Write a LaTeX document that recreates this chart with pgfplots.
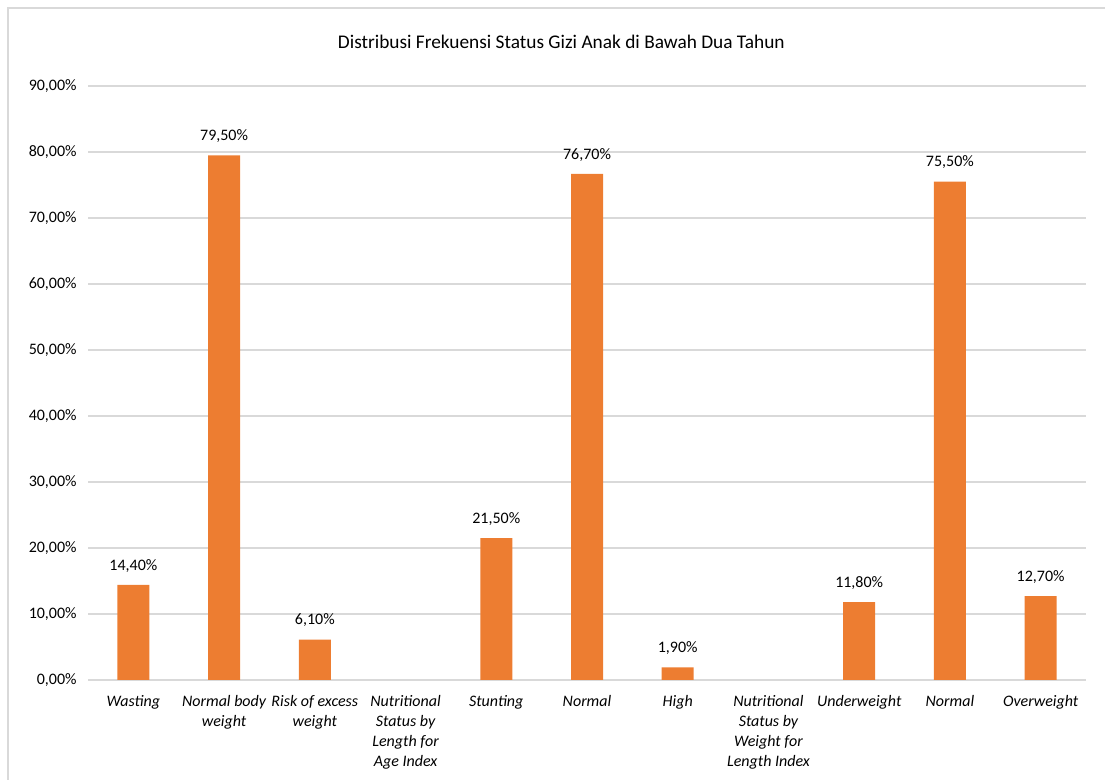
\documentclass[border=0pt]{standalone}
\usepackage{pgfplots}
\pgfplotsset{compat=1.18}
\usepackage{fontspec}
\setmainfont{Carlito}
\definecolor{barorange}{HTML}{ED7D31}
\definecolor{gridgray}{HTML}{D9D9D9}
\definecolor{framegray}{HTML}{D9D9D9}
\begin{document}
\begin{tikzpicture}
\path[use as bounding box] (0,0) rectangle (828.75pt,585pt);
\draw[framegray, line width=0.8pt] (6pt,0) -- (6pt,579pt) -- (828.75pt,579pt);
\node[font=\fontsize{14.5}{16}\selectfont] at (421pt,553.5pt) {Distribusi Frekuensi Status Gizi Anak di Bawah Dua Tahun};
\begin{axis}[
  at={(66pt,75pt)}, anchor=south west,
  scale only axis,
  width=748.5pt, height=445.5pt,
  xmin=-0.5, xmax=10.5,
  ymin=0, ymax=90,
  ytick={0,10,...,90},
  yticklabel={\pgfmathprintnumber[fixed,zerofill,precision=2,use comma]{\tick}\%},
  /pgf/number format/assume math mode=true,
  ymajorgrids, grid style={gridgray, line width=0.8pt},
  axis line style={draw=none},
  major tick length=0pt,
  tick label style={font=\fontsize{12}{14}\selectfont},
  yticklabel style={xshift=-5pt},
  xtick={0,...,10},
  xticklabels={Wasting,{Normal body\\weight},{Risk of excess\\weight},{Nutritional\\Status by\\Length for\\Age Index},Stunting,Normal,High,{Nutritional\\Status by\\Weight for\\Length Index},Underweight,Normal,Overweight},
  xticklabel style={font=\fontsize{12}{15}\selectfont\itshape, align=center, anchor=north, yshift=-8pt},
  ybar, bar width=24pt,
  nodes near coords={\pgfmathprintnumber[fixed,zerofill,precision=2,use comma]{\pgfplotspointmeta}\%},
  nodes near coords style={font=\fontsize{12}{14}\selectfont, anchor=south, yshift=6pt},
  clip=false,
]
\draw[gridgray, line width=0.8pt] (axis cs:-0.5,0) -- (axis cs:10.5,0);
\addplot[fill=barorange, draw=none] coordinates {
(0,14.4) (1,79.5) (2,6.1) (4,21.5) (5,76.7) (6,1.9) (8,11.8) (9,75.5) (10,12.7)
};
\end{axis}
\end{tikzpicture}
\end{document}
